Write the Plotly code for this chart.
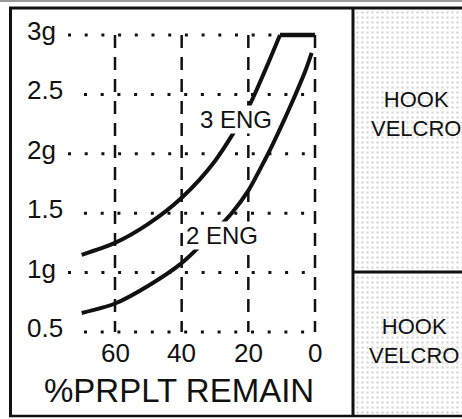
import plotly.graph_objects as go

# ---------------- data ----------------
x_ticks = [60, 40, 20, 0]
x_tick_labels = ["60", "40", "20", "0"]
y_ticks = [3.0, 2.5, 2.0, 1.5, 1.0, 0.5]
y_tick_labels = ["3g", "2.5", "2g", "1.5", "1g", "0.5"]

eng3_prop = [70, 60, 50, 40, 30, 20, 15, 10.5]
eng3_g = [1.15, 1.25, 1.41, 1.63, 1.94, 2.39, 2.70, 3.0]
eng3_cap_prop = [10.5, 0]
eng3_cap_g = [3.0, 3.0]

eng2_prop = [70, 60, 50, 40, 30, 25, 20, 15, 12, 9, 6, 3, 1]
eng2_g = [0.66, 0.74, 0.89, 1.08, 1.35, 1.50, 1.69, 1.95, 2.12, 2.30, 2.49, 2.69, 2.85]

curve_labels = ["3 ENG", "2 ENG"]
curve_label_prop = [23.7, 27.9]
curve_label_g = [2.29, 1.31]

x_title = "%PRPLT REMAIN"
panel_texts = ["HOOK<br>VELCRO", "HOOK<br>VELCRO"]

# ---------------- layout geometry (pixels) ----------------
W, H = 462, 419
X_REF_PX, X_REF_VAL, PX_PER_X = 315, 0.0, 200 / 60
Y_REF_PX, Y_REF_VAL, PX_PER_Y = 332, 0.5, 297 / 2.5
LEFT_W = 353


def xv(px):
    return X_REF_VAL - (px - X_REF_PX) / PX_PER_X


def yv(py):
    return Y_REF_VAL + (Y_REF_PX - py) / PX_PER_Y


FONT = "Liberation Sans, Arial, Helvetica, sans-serif"
INK = "#111111"

fig = go.Figure()

# stippled right panel (pixel coordinate subplot)
fig.add_trace(go.Scatter(
    x=[355, W, W, 355, 355], y=[10, 10, 415, 415, 10],
    xaxis="x2", yaxis="y2", mode="lines", fill="toself",
    line=dict(width=0, color="rgba(0,0,0,0)"),
    fillcolor="rgba(255,255,255,0)",
    fillpattern=dict(shape=".", size=5, solidity=0.2,
                     fgcolor="#b0b0b0", bgcolor="#ffffff"),
    hoverinfo="skip"))

# dotted horizontal leaders
for val, lab in zip(y_ticks, y_tick_labels):
    start_px = 68 if lab.endswith("g") else 84
    fig.add_trace(go.Scatter(
        x=[xv(start_px), x_ticks[-1]], y=[val, val], mode="lines",
        line=dict(color=INK, width=3, dash="3px,13.7px"),
        hoverinfo="skip"))

# dashed vertical grid
for xt in x_ticks:
    fig.add_trace(go.Scatter(
        x=[xt, xt], y=[y_ticks[0], y_ticks[-1]], mode="lines",
        line=dict(color=INK, width=2.5, dash="13px,9px"),
        hoverinfo="skip"))

# curves
fig.add_trace(go.Scatter(x=eng3_prop, y=eng3_g, mode="lines",
                         line=dict(color=INK, width=4, shape="spline", smoothing=0.8),
                         hoverinfo="skip"))
fig.add_trace(go.Scatter(x=eng3_cap_prop, y=eng3_cap_g, mode="lines",
                         line=dict(color=INK, width=4.5), hoverinfo="skip"))
fig.add_trace(go.Scatter(x=eng2_prop, y=eng2_g, mode="lines",
                         line=dict(color=INK, width=4, shape="spline", smoothing=0.8),
                         hoverinfo="skip"))

annotations = []
for lab, px, gv in zip(curve_labels, curve_label_prop, curve_label_g):
    annotations.append(dict(x=px, y=gv, xref="x", yref="y", text=lab,
                            showarrow=False, bgcolor="white", borderpad=0,
                            font=dict(family=FONT, size=24, color=INK)))

for val, lab in zip(y_ticks, y_tick_labels):
    annotations.append(dict(x=xv(25), y=val, xref="x", yref="y", text=lab,
                            showarrow=False, xanchor="left", yanchor="middle",
                            yshift=4, font=dict(family=FONT, size=26, color=INK)))

for xt, lab in zip(x_ticks, x_tick_labels):
    annotations.append(dict(x=xt, y=yv(353), xref="x", yref="y", text=lab,
                            showarrow=False, xanchor="center", yanchor="middle",
                            font=dict(family=FONT, size=26, color=INK)))

annotations.append(dict(x=xv(179), y=yv(390), xref="x", yref="y", text=x_title,
                        showarrow=False, xanchor="center", yanchor="middle",
                        font=dict(family=FONT, size=33, color=INK)))

for txt, (cx, cy) in zip(panel_texts, [(416, 113.5), (414, 340.5)]):
    annotations.append(dict(x=cx, y=cy, xref="x2", yref="y2", text=txt,
                            showarrow=False, xanchor="center", yanchor="middle",
                            font=dict(family=FONT, size=22, color=INK)))

shapes = [
    dict(type="line", xref="x2", yref="y2", x0=0, x1=W, y0=1, y1=1,
         line=dict(color="#9a9a9a", width=2)),
    dict(type="line", xref="x2", yref="y2", x0=9, x1=W, y0=8, y1=8,
         line=dict(color=INK, width=3)),
    dict(type="line", xref="x2", yref="y2", x0=10.5, x1=10.5, y0=7, y1=417,
         line=dict(color=INK, width=3)),
    dict(type="line", xref="x2", yref="y2", x0=9, x1=W, y0=416, y1=416,
         line=dict(color=INK, width=2.5)),
    dict(type="line", xref="x2", yref="y2", x0=LEFT_W, x1=LEFT_W, y0=7, y1=417,
         line=dict(color=INK, width=3)),
    dict(type="line", xref="x2", yref="y2", x0=LEFT_W, x1=W, y0=272, y1=272,
         line=dict(color=INK, width=3)),
]

fig.update_layout(
    width=W, height=H, margin=dict(l=0, r=0, t=0, b=0),
    paper_bgcolor="white", plot_bgcolor="rgba(0,0,0,0)",
    showlegend=False, hovermode=False,
    xaxis=dict(domain=[0, LEFT_W / W], range=[xv(0), xv(LEFT_W)], visible=False),
    yaxis=dict(domain=[0, 1], range=[yv(H), yv(0)], visible=False),
    xaxis2=dict(domain=[0, 1], range=[0, W], visible=False, anchor="y2"),
    yaxis2=dict(domain=[0, 1], range=[H, 0], visible=False, anchor="x2"),
    annotations=annotations, shapes=shapes,
)

fig.write_html(
    "out.html",
    config={"displayModeBar": False},
    post_script="document.body.style.margin='0';document.body.style.overflow='hidden';",
)
